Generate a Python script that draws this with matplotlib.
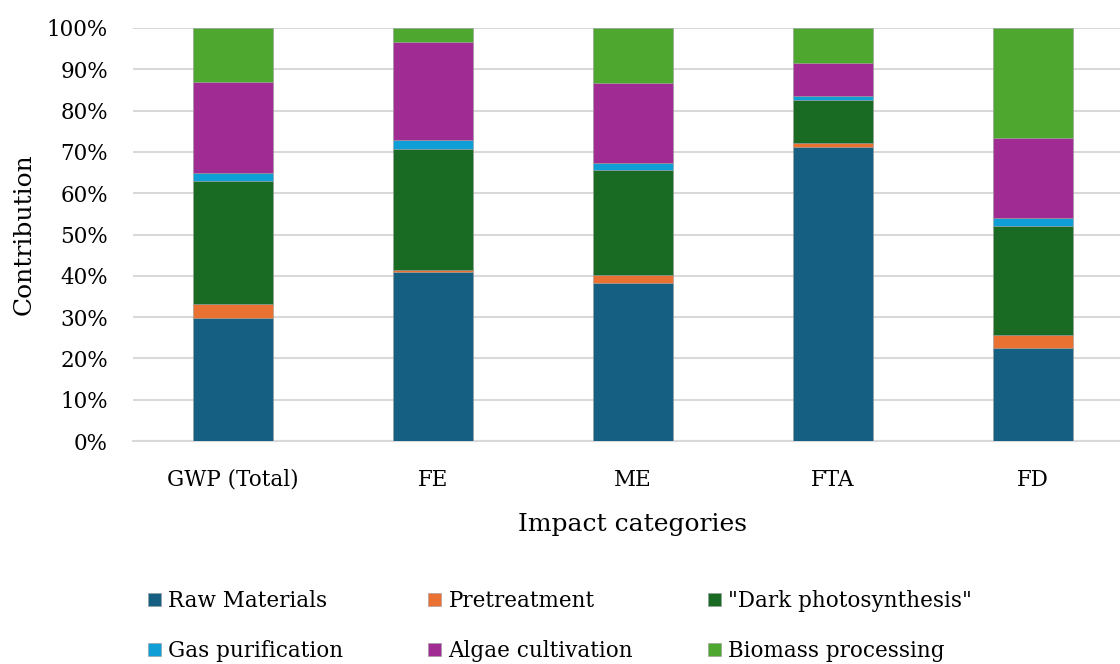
import numpy as np
import matplotlib
matplotlib.use("Agg")
import matplotlib.pyplot as plt

plt.rcParams['font.family'] = ['DejaVu Serif']

categories = ["GWP (Total)", "FE", "ME", "FTA", "FD"]
stages = ["Raw Materials", "Pretreatment", '"Dark photosynthesis"',
          "Gas purification", "Algae cultivation", "Biomass processing"]
colors = ["#156082", "#E97132", "#196B24", "#0F9ED5", "#A02B93", "#4EA72E"]

# share of each stage (%) per impact category
raw_materials = [29.9, 40.9, 38.3, 71.3, 22.5]
pretreatment = [3.3, 0.5, 1.8, 0.9, 3.2]
dark_photo = [29.7, 29.3, 25.4, 10.4, 26.4]
gas_purification = [1.9, 2.2, 1.9, 0.9, 1.8]
algae_cultivation = [22.05, 23.6, 19.4, 8.1, 19.5]
biomass_processing = [13.15, 3.5, 13.2, 8.4, 26.6]

series = [raw_materials, pretreatment, dark_photo,
          gas_purification, algae_cultivation, biomass_processing]

fig = plt.figure(figsize=(11.2, 6.64), dpi=100)
ax = fig.add_axes([133 / 1120, 1 - 441 / 664, 1000 / 1120, 413 / 664])

x = np.arange(len(categories))
bottom = np.zeros(len(categories))
handles = []
for name, vals, col in zip(stages, series, colors):
    vals = np.array(vals) / 100.0
    b = ax.bar(x, vals, width=0.4, bottom=bottom, color=col, label=name,
               edgecolor="#9a9a9a", linewidth=0.4, zorder=3)
    handles.append(b)
    bottom += vals

ax.set_xlim(-0.5, 4.5)
ax.set_ylim(0, 1.0)
ax.set_yticks(np.arange(0, 1.01, 0.1))
ax.set_yticklabels([f"{int(round(v * 100))}%" for v in np.arange(0, 1.01, 0.1)])
ax.set_xticks(x)
ax.set_xticklabels(categories)
ax.tick_params(axis="both", length=0, labelsize=15.5, colors="black")
ax.tick_params(axis="x", pad=20)
ax.tick_params(axis="y", pad=18)
ax.yaxis.grid(True, color="#D9D9D9", linewidth=1.5, zorder=0)
for side in ["top", "right", "left"]:
    ax.spines[side].set_visible(False)
ax.spines["bottom"].set_color("#D9D9D9")
ax.spines["bottom"].set_linewidth(1.5)

ax.set_ylabel("Contribution", fontsize=18, labelpad=8)
ax.set_xlabel("Impact categories", fontsize=18, labelpad=16)

# one small legend per column so the columns sit at fixed x positions
col_x = [148, 428, 708]
for k, cx in enumerate(col_x):
    idx = [k, k + 3]
    leg = fig.legend([handles[i] for i in idx], [stages[i] for i in idx],
                     loc="upper left", bbox_to_anchor=(cx / 1120, 1 - 590 / 664),
                     frameon=False, fontsize=15.5, handlelength=0.6,
                     handleheight=0.6, handletextpad=0.35, labelspacing=1.3,
                     borderpad=0, borderaxespad=0)

fig.savefig("out.png", dpi=100)
